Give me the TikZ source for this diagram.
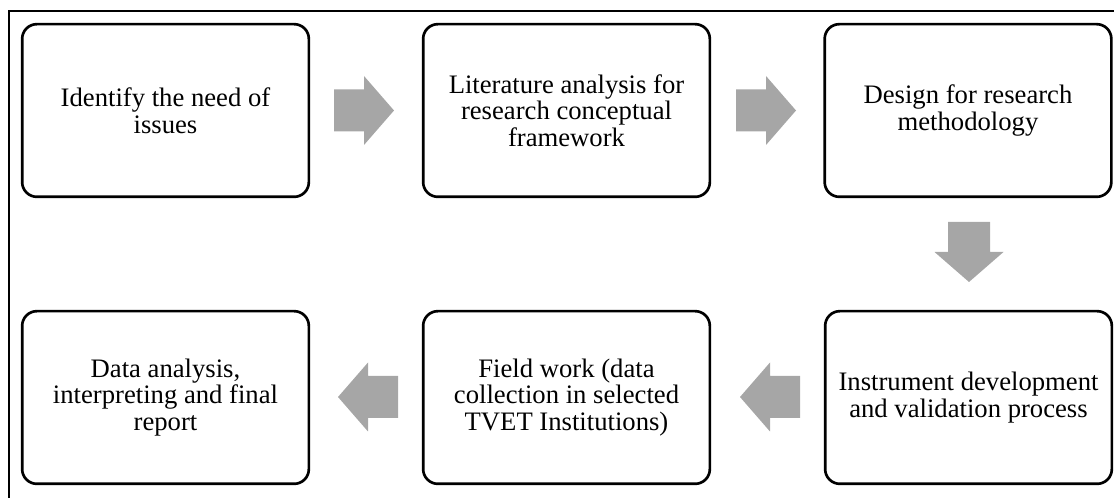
\documentclass[tikz,border=0pt]{standalone}
\usepackage{fontspec}
\setmainfont{Liberation Serif}
\begin{document}
\begin{tikzpicture}[x=0.75pt,y=-0.75pt,
  stepbox/.style={draw=black, line width=2pt, rounded corners=11pt,
    minimum width=215pt, minimum height=129.5pt, inner sep=0pt,
    align=center, font=\fontsize{20}{20}\selectfont},
  arrowgray/.style={fill=black!35, draw=none},
  pics/blockarrow/.style={code={
    \fill[arrowgray] (-30,-21) -- (0,-21) -- (0,-34.5) -- (30,0) -- (0,34.5) -- (0,21) -- (-30,21) -- cycle;}}
]
\useasboundingbox (0,0) rectangle (1114,498);
% outer frame (partially visible)
\draw[line width=1.3pt] (9,498) -- (9,11) -- (1114,11);
% boxes
\node[stepbox] (b1) at (165.5,110.5) {Identify the need of\\issues};
\node[stepbox] (b2) at (566.5,110.5) {Literature analysis for\\research conceptual\\framework};
\node[stepbox] (b3) at (968,110.5) {Design for research\\methodology};
\node[stepbox] (b6) at (968.5,397.5) {Instrument development\\and validation process};
\node[stepbox] (b5) at (566.5,397.5) {Field work (data\\collection in selected\\TVET Institutions)};
\node[stepbox] (b4) at (165.5,397.5) {Data analysis,\\interpreting and final\\report};
% block arrows
\pic at (364,110.5) {blockarrow};
\pic at (766,110.5) {blockarrow};
\pic[rotate=-90] at (969,252) {blockarrow};
\pic[rotate=180] at (770,397) {blockarrow};
\pic[rotate=180] at (368,397) {blockarrow};
\end{tikzpicture}
\end{document}
